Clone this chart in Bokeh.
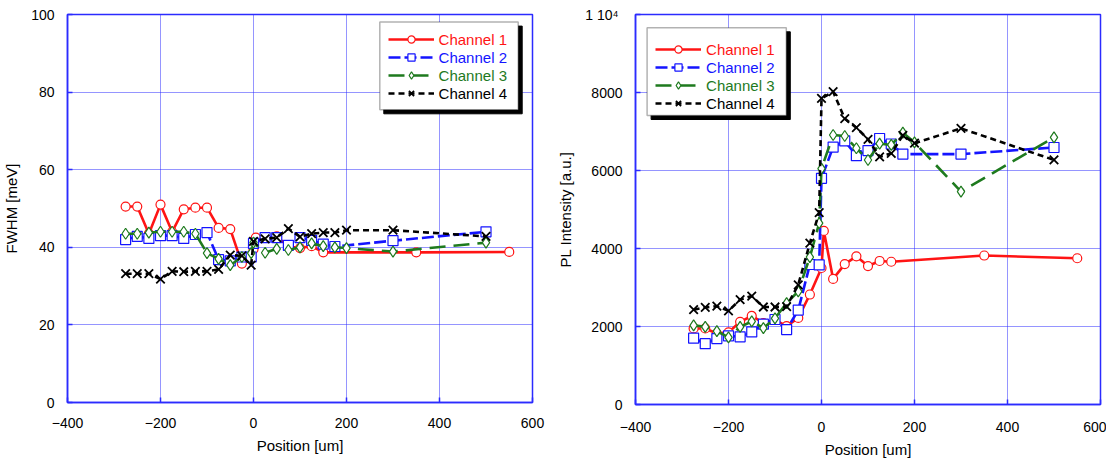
from bokeh.plotting import figure
from bokeh.layouts import row
from bokeh.models import Legend, LegendItem, BoxAnnotation, FixedTicker, Range1d
from bokeh.embed import file_html
from bokeh.resources import INLINE

# ---------------- data ----------------
x_ticks = [-400, -200, 0, 200, 400, 600]
fwhm_ticks = [0, 20, 40, 60, 80, 100]
pl_ticks = [0, 2000, 4000, 6000, 8000, 10000]
pl_tick_overrides = {10000: "1  10\u2074"}

channel_names = ["Channel 1", "Channel 2", "Channel 3", "Channel 4"]

ch1_x = [-275, -250, -225, -200, -175, -150, -125, -100, -75, -50, -25, 0, 5,
         25, 50, 75, 100, 125, 150, 350, 550]
ch1_fwhm = [50.5, 50.5, 43.5, 51.0, 44.0, 49.8, 50.2, 50.2, 45.0, 44.7, 35.8, 39.5, 42.5,
            42.4, 42.8, 40.2, 39.8, 40.3, 38.7, 38.7, 38.8]
ch1_pl = [1950, 1950, 1820, 1850, 2120, 2270, 2090, 2170, 2010, 2220, 2820, 3500, 4450,
          3220, 3600, 3800, 3550, 3680, 3660, 3820, 3750]

ch2_x = [-275, -250, -225, -200, -175, -150, -125, -100, -75, -50, -25, -5, 0,
         25, 50, 75, 100, 125, 150, 175, 300, 500]
ch2_fwhm = [42.0, 42.8, 42.3, 43.0, 43.0, 42.3, 43.3, 43.8, 36.8, 36.5, 37.5, 37.5, 41.0,
            42.5, 42.5, 40.5, 42.5, 41.8, 40.8, 40.2, 41.7, 44.0]
ch2_pl = [1700, 1560, 1690, 1760, 1735, 1860, 2060, 2180, 1920, 2420, 3590, 3580, 5800,
          6600, 6760, 6380, 6510, 6820, 6680, 6420, 6420, 6590]

ch3_x = [-275, -250, -225, -200, -175, -150, -125, -100, -75, -50, -25, -5, 0,
         25, 50, 75, 100, 125, 150, 175, 200, 300, 500]
ch3_fwhm = [43.5, 43.5, 43.8, 44.0, 44.0, 44.0, 43.5, 38.5, 37.0, 35.4, 37.5, 38.5, 41.2,
            38.6, 39.6, 39.3, 40.0, 41.0, 40.3, 40.0, 39.8, 38.9, 41.2]
ch3_pl = [2030, 1990, 1880, 1720, 1990, 2130, 1960, 2210, 2600, 2900, 3780, 4650, 6050,
          6910, 6885, 6570, 6270, 6690, 6655, 6970, 6720, 5460, 6850]

ch4_x = [-275, -250, -225, -200, -175, -150, -125, -100, -75, -50, -25, -5, 0,
         25, 50, 75, 100, 125, 150, 175, 200, 300, 500]
ch4_fwhm = [33.2, 33.2, 33.2, 31.8, 33.8, 33.7, 33.8, 33.8, 34.3, 38.0, 37.8, 35.4, 41.5,
            42.2, 42.5, 44.8, 42.7, 43.5, 43.8, 43.8, 44.4, 44.4, 42.8]
ch4_pl = [2430, 2490, 2520, 2400, 2690, 2780, 2500, 2500, 2510, 3070, 4140, 4920, 7850,
          8020, 7330, 7100, 6800, 6350, 6440, 6900, 6700, 7080, 6270]

# ---------------- style ----------------
FONT = "Liberation Sans"
BLUE_FRAME = "#2b2bff"
colors = ["#ff1414", "#1414ff", "#1e7a1e", "#000000"]
dashes = ["solid", "12 4", "16 8", "6 4"]
markers = ["circle", "square", "diamond", "x"]
msizes = [9, 10, 11, 12]
mwidths = [1.2, 1.2, 1.2, 1.8]


def make_fig(ylabel, yrange, yticks, overrides, frame_w, frame_h,
             mb_left, mb_right, mb_top, mb_bottom, x_std, x_lab_std):
    p = figure(frame_width=frame_w, frame_height=frame_h,
               output_backend="svg", toolbar_location=None,
               x_range=Range1d(-400, 600), y_range=Range1d(*yrange),
               min_border_left=mb_left, min_border_right=mb_right,
               min_border_top=mb_top, min_border_bottom=mb_bottom)
    p.background_fill_color = "white"
    p.border_fill_color = "white"
    p.outline_line_color = BLUE_FRAME
    p.outline_line_width = 1.5
    p.xaxis.ticker = FixedTicker(ticks=x_ticks)
    p.yaxis.ticker = FixedTicker(ticks=yticks)
    if overrides:
        p.yaxis.major_label_overrides = overrides
    for ax in (p.xaxis, p.yaxis):
        ax.axis_line_color = BLUE_FRAME
        ax.axis_line_width = 1.5
        ax.major_tick_in = 5
        ax.major_tick_out = 0
        ax.major_tick_line_color = BLUE_FRAME
        ax.major_tick_line_width = 1.5
        ax.minor_tick_line_color = None
        ax.major_label_text_font = FONT
        ax.major_label_text_font_size = "14px"
        ax.major_label_text_color = "black"
        ax.axis_label_text_font = FONT
        ax.axis_label_text_font_size = "15px"
        ax.axis_label_text_font_style = "normal"
        ax.axis_label_text_color = "black"
    p.xaxis.axis_label = "Position [um]"
    p.xaxis.major_label_standoff = x_std
    p.xaxis.axis_label_standoff = x_lab_std
    p.yaxis.axis_label = ylabel
    p.yaxis.major_label_standoff = 13
    p.yaxis.axis_label_standoff = 8
    for g in (p.xgrid, p.ygrid):
        g.grid_line_color = BLUE_FRAME
        g.grid_line_dash = "1 1"
        g.grid_line_width = 1
    return p


def add_series(p, xs_list, ys_list, box, legend_x, legend_y0, row_h, shadow=4):
    rs = []
    for i in range(4):
        lr = p.line(xs_list[i], ys_list[i], line_color=colors[i], line_width=2.6,
                    line_dash=dashes[i])
        sr = p.scatter(xs_list[i], ys_list[i], marker=markers[i], size=msizes[i],
                       line_color=colors[i], fill_color="white", line_width=mwidths[i])
        rs.append((lr, sr))
    l, r, b, t = box
    sh = BoxAnnotation(left=l + shadow, right=r + shadow, bottom=b - shadow, top=t - shadow,
                       left_units="screen", right_units="screen",
                       bottom_units="screen", top_units="screen",
                       fill_color="black", fill_alpha=1.0,
                       line_color="black", line_alpha=1.0, line_width=1,
                       level="annotation")
    bx = BoxAnnotation(left=l, right=r, bottom=b, top=t,
                       left_units="screen", right_units="screen",
                       bottom_units="screen", top_units="screen",
                       fill_color="white", fill_alpha=1.0,
                       line_color="black", line_width=1.5,
                       level="annotation")
    p.add_layout(sh)
    p.add_layout(bx)
    for i in range(4):
        item = LegendItem(label=channel_names[i], renderers=list(rs[i]))
        leg = Legend(items=[item], location=(legend_x, legend_y0 - row_h * i),
                     padding=0, margin=0, spacing=0,
                     border_line_color=None, background_fill_alpha=0,
                     label_text_font=FONT, label_text_font_size="15px",
                     label_text_color=colors[i],
                     glyph_width=46, glyph_height=int(row_h), label_height=int(row_h),
                     label_standoff=5)
        p.add_layout(leg)


xs = [ch1_x, ch2_x, ch3_x, ch4_x]

p1 = make_fig("FWHM [meV]", (0, 100), fwhm_ticks, None,
              frame_w=465, frame_h=388, mb_left=64, mb_right=22, mb_top=10, mb_bottom=56,
              x_std=15, x_lab_std=6)
add_series(p1, xs, [ch1_fwhm, ch2_fwhm, ch3_fwhm, ch4_fwhm],
           box=(312.3, 450.7, 292.7, 380.4), legend_x=320.6, legend_y0=353.6, row_h=18)

p2 = make_fig("PL Intensity [a.u.]", (0, 10000), pl_ticks, pl_tick_overrides,
              frame_w=465, frame_h=390, mb_left=77, mb_right=6, mb_top=14, mb_bottom=57,
              x_std=17, x_lab_std=6)
add_series(p2, xs, [ch1_pl, ch2_pl, ch3_pl, ch4_pl],
           box=(11.6, 150.8, 289.0, 376.7), legend_x=20.1, legend_y0=345.7, row_h=18)

layout = row(p1, p2)
open("out.html", "w").write(file_html(layout, INLINE))
